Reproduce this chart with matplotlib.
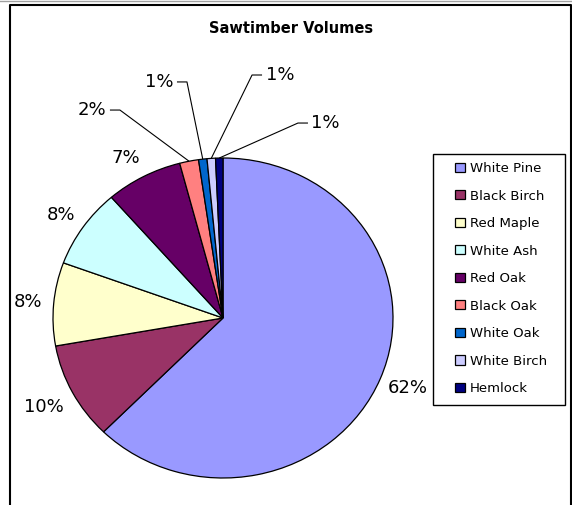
import matplotlib
matplotlib.use('Agg')
import matplotlib.pyplot as plt
import numpy as np
from matplotlib.patches import Rectangle
from matplotlib.lines import Line2D

# ---------------- data ----------------
title = "Sawtimber Volumes"
species = ["White Pine", "Black Birch", "Red Maple", "White Ash", "Red Oak",
           "Black Oak", "White Oak", "White Birch", "Hemlock"]
volumes = [62.4, 9.8, 8.4, 8.0, 7.3, 1.8, 0.8, 0.8, 0.7]
colors = ["#9999FF", "#993366", "#FFFFCC", "#CCFFFF", "#660066",
          "#FF8080", "#0066CC", "#CCCCFF", "#000080"]

# ---------------- layout ----------------
W, H = 572, 505
fig = plt.figure(figsize=(W / 100, H / 100), dpi=100)
fig.patch.set_facecolor('white')
ax = fig.add_axes([0, 0, 1, 1])
cx, cy = 223, 187      # pie centre (pixels from bottom-left)
rx, ry = 170, 160      # pie radii in pixels (slightly stretched, like the original)

wedges, _ = ax.pie(volumes, colors=colors, startangle=90, counterclock=False,
                   radius=1, wedgeprops=dict(edgecolor='black', linewidth=0.9))
ax.set_aspect('auto')
ax.set_xlim(-cx / rx, (W - cx) / rx)
ax.set_ylim(-cy / ry, (H - cy) / ry)
ax.axis('off')

total = sum(volumes)
pct = [f"{round(v / total * 100):d}%" for v in volumes]

# direct labels for the large slices: (radial distance, angle offset in degrees)
direct_pos = [(1.17, 0.5), (1.19, 0.0), (1.15, 0.0), (1.15, 0.5), (1.15, 2.0)]
# leader-line labels for the small slices: elbow point (radius, angle in degrees)
leader_pos = [(1.46, 117.1), (1.50, 100.4), (1.536, 81.4), (1.317, 67.7)]

lab_fs = 13
for i, w in enumerate(wedges):
    mid_deg = (w.theta1 + w.theta2) / 2
    mid = np.deg2rad(mid_deg)
    if i < len(direct_pos):
        r, off = direct_pos[i]
        a = np.deg2rad(mid_deg + off)
        ax.text(r * np.cos(a), r * np.sin(a), pct[i], ha='center',
                va='center', fontsize=lab_fs, color='black')
    else:
        r, ang = leader_pos[i - len(direct_pos)]
        a = np.deg2rad(ang)
        ex, ey = r * np.cos(a), r * np.sin(a)
        px, py = np.cos(mid), np.sin(mid)
        side = -1 if ex < 0 else 1          # -1: label left of pie centre
        stub = 10 / rx
        gap = 3.5 / rx
        kx = ex - side * stub
        ax.plot([ex, kx, px], [ey, ey, py], color='black', lw=0.8,
                solid_capstyle='butt')
        ax.text(ex + side * gap, ey, pct[i], ha='right' if side < 0 else 'left',
                va='center', fontsize=lab_fs, color='black')

# title
fig.text(291 / W, 1 - 28.5 / H, title, ha='center', va='center',
         fontsize=10.5, fontweight='bold')

# legend
fig.legend(wedges, species, loc='upper left',
           bbox_to_anchor=(455 / W, 1 - 162 / H), frameon=False, fontsize=9.5,
           handlelength=0.72, handleheight=0.68, handletextpad=0.38,
           labelspacing=1.10, borderpad=0, borderaxespad=0)
fig.add_artist(Rectangle((433 / W, 1 - 405 / H), 132 / W, 251 / H,
                         transform=fig.transFigure, fill=False,
                         edgecolor='black', lw=1))

# chart-area border (open at the bottom, as in the original)
top = 1 - 5 / H
fig.add_artist(Line2D([9.5 / W, 9.5 / W, 570.5 / W, 570.5 / W],
                      [0, top, top, 0], transform=fig.transFigure,
                      color='black', lw=1.5))
fig.add_artist(Line2D([0, 1], [1 - 0.5 / H, 1 - 0.5 / H],
                      transform=fig.transFigure, color='#a0a0a0', lw=1))

fig.savefig('out.png', dpi=100)
